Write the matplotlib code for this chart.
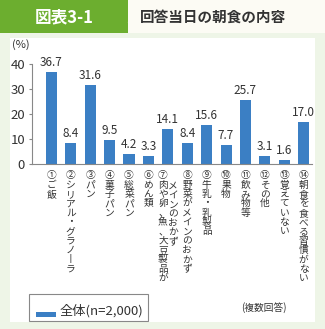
import matplotlib
matplotlib.use("Agg")
import matplotlib.pyplot as plt
from matplotlib.patches import Rectangle, FancyBboxPatch
from matplotlib.transforms import blended_transform_factory

plt.rcParams['font.family'] = ['Noto Sans CJK JP', 'DejaVu Sans']

categories = ["①ご飯", "②シリアル・グラノーラ", "③パン", "④菓子パン", "⑤総菜パン",
              "⑥めん類", "⑦肉や卵、魚、大豆製品がメインのおかず", "⑧野菜がメインのおかず",
              "⑨牛乳・乳製品", "⑩果物", "⑪飲み物等", "⑫その他", "⑬覚えていない",
              "⑭朝食を食べる習慣がない"]
values = [36.7, 8.4, 31.6, 9.5, 4.2, 3.3, 14.1, 8.4, 15.6, 7.7, 25.7, 3.1, 1.6, 17.0]
yticks = [0, 10, 20, 30, 40]
title = "回答当日の朝食の内容"
fig_label = "図表3-1"
legend_label = "全体(n=2,000)"
note = "(複数回答)"

W, H = 325, 329
fig = plt.figure(figsize=(W / 100, H / 100), dpi=100)
fig.patch.set_facecolor('#eef5e7')

def fx(px):
    return px / W

def fy(py):
    return 1 - py / H

# header background
fig.patches.append(Rectangle((0, fy(33)), 1, 33 / H, transform=fig.transFigure,
                             facecolor='#fcfbf4', edgecolor='none', zorder=0))
# green tab
fig.patches.append(FancyBboxPatch((fx(-20), fy(33)), fx(148), 33 / H + 0.05,
                                  boxstyle="round,pad=0,rounding_size=0.035",
                                  transform=fig.transFigure, facecolor='#6cae2f',
                                  edgecolor='none', zorder=1, mutation_aspect=H / W))
fig.patches.append(Rectangle((0, fy(33)), fx(128), 10 / H, transform=fig.transFigure,
                             facecolor='#6cae2f', edgecolor='none', zorder=1))
# white panel
fig.patches.append(Rectangle((fx(10), fy(322)), fx(305), (322 - 38) / H,
                             transform=fig.transFigure, facecolor='white',
                             edgecolor='none', zorder=0))

fig.text(fx(64), fy(17), fig_label, color='white', fontsize=12, fontweight='bold',
         ha='center', va='center', zorder=3)
fig.text(fx(140), fy(17), title, color='#333333', fontsize=10.5, fontweight='bold',
         ha='left', va='center', zorder=3)

ax = fig.add_axes([fx(32), fy(164), fx(312 - 32), (164 - 64) / H])
ax.set_zorder(5)
ax.set_facecolor('none')
x = list(range(len(values)))
bars = ax.bar(x, values, width=0.57, color='#3b7fc4', zorder=2)
ax.set_xlim(-1.0, 13.43)
ax.set_ylim(0, 40)
ax.set_yticks(yticks)
ax.set_yticklabels([str(v) for v in yticks], fontsize=9.5, color='#333333')
ax.tick_params(axis='y', length=2.5, width=0.8, color='#888888', pad=2.5, direction='out')
ax.set_xticks([])
for s in ['top', 'right']:
    ax.spines[s].set_visible(False)
for s in ['left', 'bottom']:
    ax.spines[s].set_color('#888888')
    ax.spines[s].set_linewidth(0.8)

for xi, v in zip(x, values):
    ax.annotate(f"{v:.1f}", (xi, v), xytext=(0, 2), textcoords='offset points',
                ha='center', va='bottom', fontsize=8.5, color='#333333')

fig.text(fx(12), fy(45), "(%)", fontsize=8, color='#333333', ha='left', va='center', zorder=6)

def vert(s):
    return "\n".join(s.replace("ー", "丨"))

trans = blended_transform_factory(ax.transData, ax.transAxes)
lab_kw = dict(ha='center', va='top', fontsize=7, color='#333333', linespacing=0.92,
              annotation_clip=False)
for xi, lab in zip(x, categories):
    if xi == 6:
        ax.annotate(vert("⑦肉や卵、魚、大豆製品が"), (xi, 0), xycoords=trans,
                    xytext=(-3.5, -4.5), textcoords='offset points', **lab_kw)
        ax.annotate(vert("メインのおかず"), (xi, 0), xycoords=trans,
                    xytext=(3.8, -12), textcoords='offset points', **lab_kw)
    else:
        ax.annotate(vert(lab), (xi, 0), xycoords=trans, xytext=(0, -4.5),
                    textcoords='offset points', **lab_kw)

# legend box
fig.patches.append(Rectangle((fx(29), fy(321)), fx(119), 27 / H, transform=fig.transFigure,
                             facecolor='white', edgecolor='#888888', linewidth=0.8, zorder=2))
fig.patches.append(Rectangle((fx(36), fy(316.5)), fx(20), 5 / H, transform=fig.transFigure,
                             facecolor='#3b7fc4', edgecolor='none', zorder=3))
fig.text(fx(60), fy(311), legend_label, fontsize=9.5, color='#333333', ha='left',
         va='center', zorder=4)
fig.text(fx(287), fy(308), note, fontsize=7, color='#333333', ha='right', va='center')

fig.savefig("out.png", dpi=100, facecolor=fig.get_facecolor())
